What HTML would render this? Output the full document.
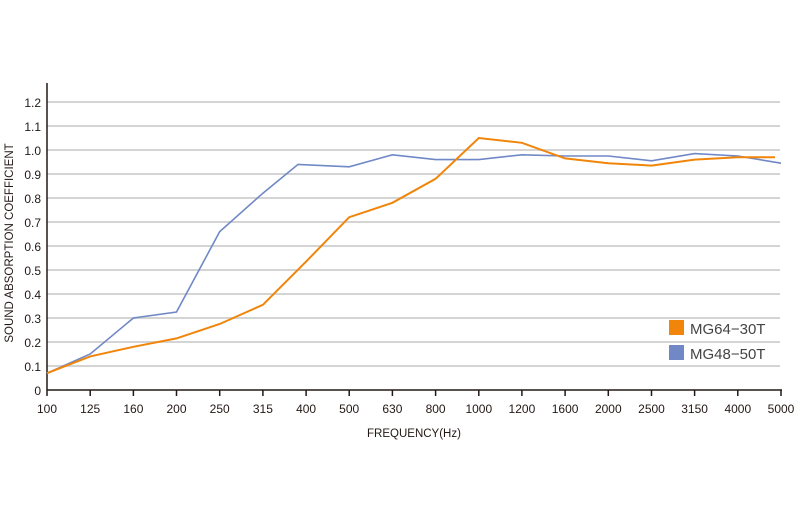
<!DOCTYPE html>
<html><head><meta charset="utf-8"><style>body{margin:0;background:#fff}svg{display:block}text{font-family:"Liberation Sans",sans-serif;fill:#231815}</style></head><body>
<svg width="800" height="520" xmlns="http://www.w3.org/2000/svg">
<g stroke="#d4d4d4" stroke-width="2">
<line x1="47" x2="780" y1="102" y2="102"/><line x1="47" x2="780" y1="126" y2="126"/><line x1="47" x2="780" y1="150" y2="150"/><line x1="47" x2="780" y1="174" y2="174"/><line x1="47" x2="780" y1="198" y2="198"/><line x1="47" x2="780" y1="222" y2="222"/><line x1="47" x2="780" y1="246" y2="246"/><line x1="47" x2="780" y1="270" y2="270"/><line x1="47" x2="780" y1="294" y2="294"/><line x1="47" x2="780" y1="318" y2="318"/><line x1="47" x2="780" y1="342" y2="342"/><line x1="47" x2="780" y1="366" y2="366"/>
</g>
<g stroke="#231815" stroke-width="1.5" fill="none">
<line x1="47" y1="83" x2="47" y2="390"/><line x1="47" y1="390" x2="782" y2="390"/>
<path d="M47 390v6M90.2 390v6M133.4 390v6M176.5 390v6M219.7 390v6M262.9 390v6M306.1 390v6M349.2 390v6M392.4 390v6M435.6 390v6M478.8 390v6M521.9 390v6M565.1 390v6M608.3 390v6M651.5 390v6M694.6 390v6M737.8 390v6M781 390v6"/>
</g>
<g font-size="12" text-anchor="end">
<text x="41" y="107">1.2</text><text x="41" y="131">1.1</text><text x="41" y="155">1.0</text><text x="41" y="179">0.9</text><text x="41" y="203">0.8</text><text x="41" y="227">0.7</text><text x="41" y="251">0.6</text><text x="41" y="275">0.5</text><text x="41" y="299">0.4</text><text x="41" y="323">0.3</text><text x="41" y="347">0.2</text><text x="41" y="371">0.1</text><text x="41" y="395">0</text>
</g>
<g font-size="12" text-anchor="middle">
<text x="47" y="413">100</text><text x="90.2" y="413">125</text><text x="133.4" y="413">160</text><text x="176.5" y="413">200</text><text x="219.7" y="413">250</text><text x="262.9" y="413">315</text><text x="306.1" y="413">400</text><text x="349.2" y="413">500</text><text x="392.4" y="413">630</text><text x="435.6" y="413">800</text><text x="478.8" y="413">1000</text><text x="521.9" y="413">1200</text><text x="565.1" y="413">1600</text><text x="608.3" y="413">2000</text><text x="651.5" y="413">2500</text><text x="694.6" y="413">3150</text><text x="737.8" y="413">4000</text><text x="781" y="413">5000</text>
<text x="414" y="437" font-size="11.5">FREQUENCY(Hz)</text>
<text transform="translate(13,243) rotate(-90)" font-size="11.5">SOUND ABSORPTION COEFFICIENT</text>
</g>
<polyline fill="none" stroke="#7088c6" stroke-width="1.6" points="47,373.2 90.2,354 133.4,318 176.5,312 219.7,231.6 262.9,193.2 298,164.4 349.2,166.8 392.4,154.8 435.6,159.6 478.8,159.6 521.9,154.8 565.1,156 608.3,156 651.5,160.8 694.6,153.6 737.8,156 781,163.2"/>
<polyline fill="none" stroke="#f0850a" stroke-width="2" points="47,373.2 90.2,356.4 133.4,346.8 176.5,338.4 219.7,324 262.9,304.8 306.1,261.6 349.2,217.2 392.4,202.8 435.6,178.8 478.8,138 521.9,142.8 565.1,158.4 608.3,163.2 651.5,165.6 694.6,159.6 737.8,157.2 775,157.2"/>
<rect x="669" y="320" width="15" height="15" fill="#f0850a"/>
<rect x="669" y="345" width="15" height="15" fill="#7088c6"/>
<g font-size="15" fill="#444"><text x="690" y="334" style="fill:#444">MG64−30T</text><text x="690" y="359" style="fill:#444">MG48−50T</text></g>
</svg>
</body></html>
